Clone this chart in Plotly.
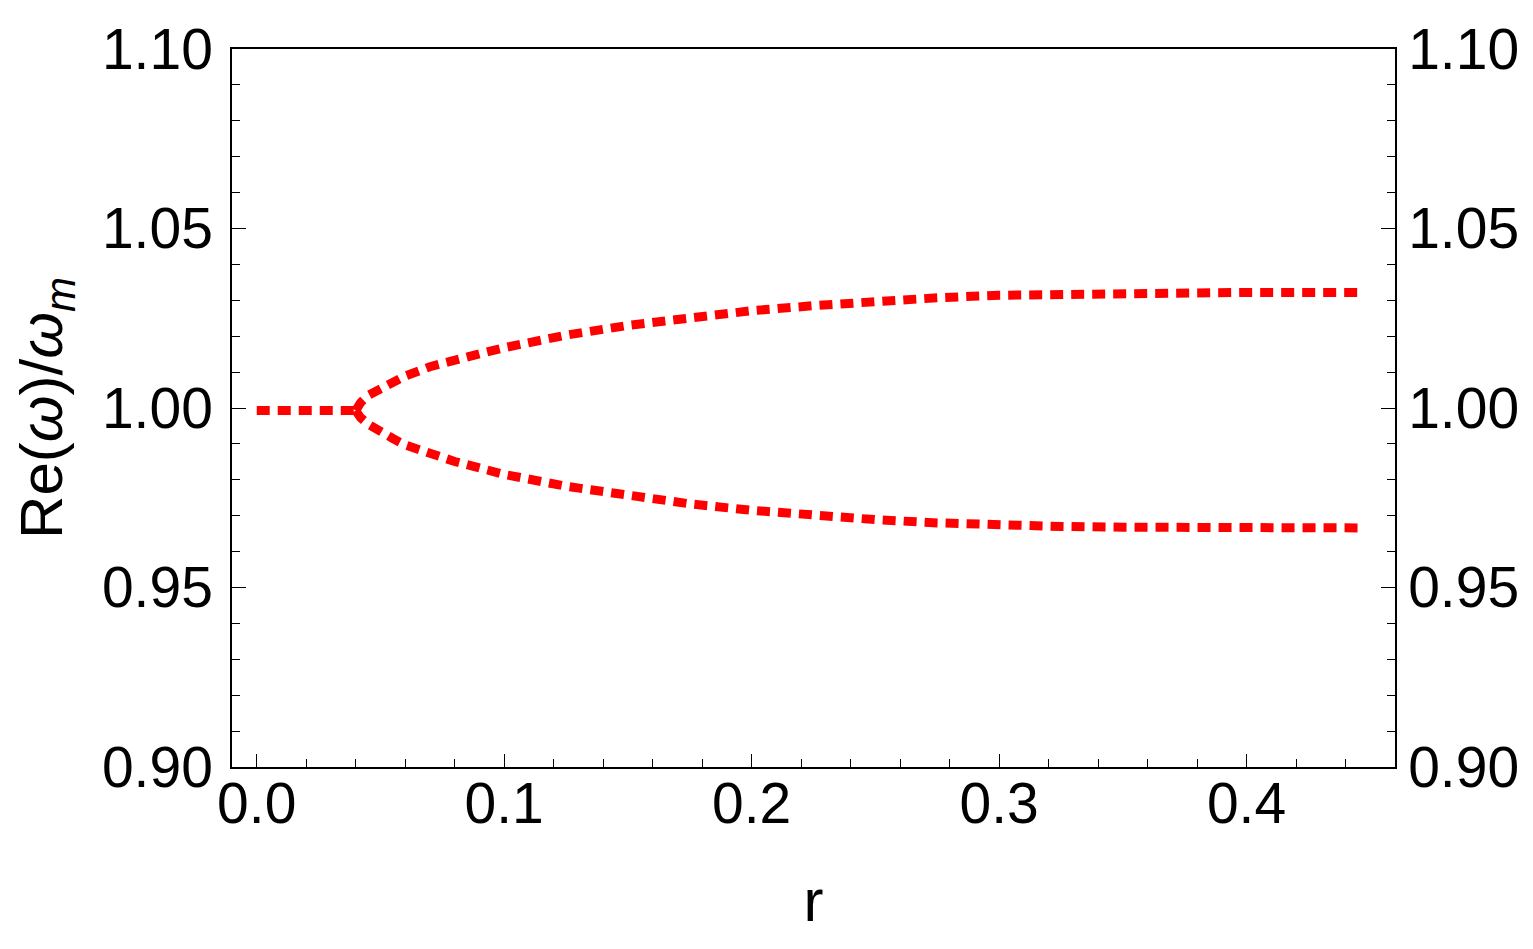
import plotly.graph_objects as go

# Data
r_flat = [0.0, 0.040]
w_flat = [0.9993, 0.9993]

r_branch = [0.040, 0.042, 0.045, 0.050, 0.055, 0.060, 0.070, 0.080, 0.090, 0.100,
            0.125, 0.150, 0.175, 0.200, 0.225, 0.250, 0.275, 0.300, 0.325, 0.350,
            0.375, 0.400, 0.425, 0.445]
w_upper = [0.9993, 1.0015, 1.0035, 1.0052, 1.0071, 1.0089, 1.0115, 1.0135, 1.0151, 1.0168,
           1.0203, 1.0230, 1.0253, 1.0271, 1.0285, 1.0297, 1.0307, 1.0314, 1.0317, 1.0319,
           1.0321, 1.0322, 1.0322, 1.0322]
w_lower = [0.9993, 0.9973, 0.9955, 0.9933, 0.9915, 0.9897, 0.9873, 0.9851, 0.9833, 0.9815,
           0.9782, 0.9755, 0.9733, 0.9715, 0.9700, 0.9689, 0.9680, 0.9673, 0.9670, 0.9668,
           0.9667, 0.9666, 0.9666, 0.9666]

x_range = [-0.01, 0.46]
y_range = [0.90, 1.10]

line_style = dict(color="#ff0000", width=9, dash="13px,8px")

fig = go.Figure()
fig.add_trace(go.Scatter(x=r_flat, y=w_flat, mode="lines", line=line_style, showlegend=False))
fig.add_trace(go.Scatter(x=r_branch, y=w_upper, mode="lines", line=line_style, showlegend=False))
fig.add_trace(go.Scatter(x=r_branch, y=w_lower, mode="lines", line=line_style, showlegend=False,
                         yaxis="y2"))

font = dict(family="Liberation Sans, Arial, sans-serif", size=60, color="black")
tick_font = dict(family="Liberation Sans, Arial, sans-serif", size=57, color="black")

yaxis_common = dict(
    range=y_range, dtick=0.05, tick0=0.9, tickformat=".2f",
    ticks="inside", ticklen=14, tickwidth=1.2, tickcolor="black",
    minor=dict(dtick=0.01, ticks="inside", ticklen=8, tickwidth=1.2, tickcolor="black"),
    showgrid=False, zeroline=False, showline=True, linecolor="black", linewidth=1.5,
    tickfont=tick_font, automargin=False,
)

# the page body has an 8px default margin, so the figure is sized to fit in the window
fig.update_layout(
    width=1525, height=941,
    margin=dict(l=224, r=138, t=41, b=182),
    paper_bgcolor="white", plot_bgcolor="white",
    font=font,
    xaxis=dict(
        range=x_range, dtick=0.1, tick0=0, tickformat=".1f",
        ticks="inside", ticklen=13, tickwidth=1.2, tickcolor="black",
        minor=dict(dtick=0.02, ticks="inside", ticklen=8, tickwidth=1.2, tickcolor="black"),
        showgrid=False, zeroline=False, showline=True, linecolor="black", linewidth=1.5,
        mirror=True, tickfont=tick_font, ticklabelstandoff=-14, automargin=False,
        title=dict(text="r", font=font, standoff=45),
    ),
    yaxis=dict(
        **yaxis_common, side="left", ticklabelstandoff=6,
        title=dict(text="Re(<i>ω</i>)/<i>ω</i><sub><i>m</i></sub>", font=font, standoff=28),
    ),
    yaxis2=dict(**yaxis_common, side="right", overlaying="y", ticklabelstandoff=0),
)

fig.write_html("out.html")
